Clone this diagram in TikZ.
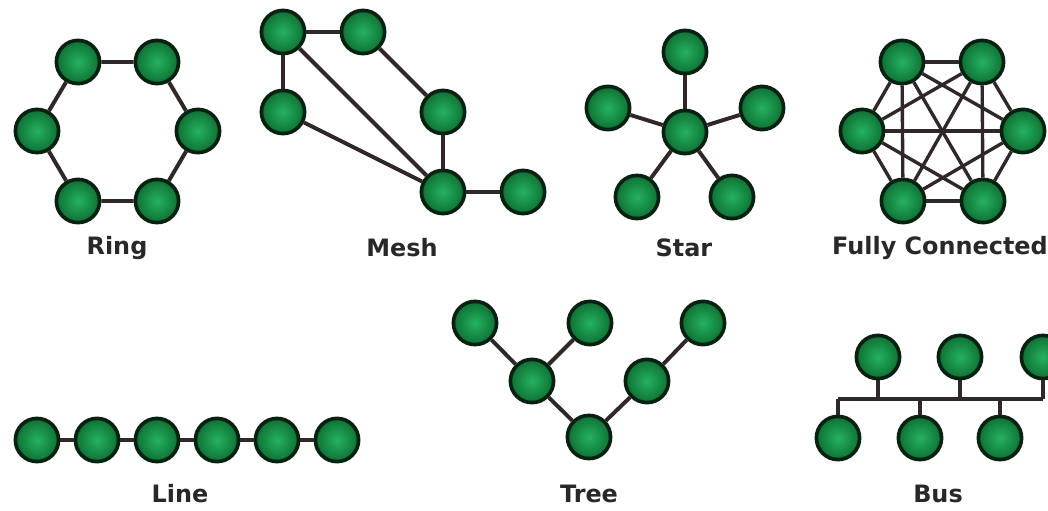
\documentclass[tikz,border=0pt]{standalone}
\usepackage{fontspec}
\setsansfont{DejaVu Sans}
\usetikzlibrary{positioning, calc}
\definecolor{ballgreen}{RGB}{36,178,96}
\definecolor{balldark}{RGB}{14,112,52}
\definecolor{ballrim}{RGB}{8,34,18}
\definecolor{linkgray}{RGB}{48,40,40}
\definecolor{labelgray}{RGB}{40,40,40}
\tikzstyle{ball} = [circle, minimum size=1.08cm, inner sep=0pt, draw=ballrim, line width=2.6pt, inner color=ballgreen, outer color=balldark]
\tikzstyle{link} = [line width=2.8pt, draw=linkgray]
\tikzstyle{caption} = [font=\sffamily\bfseries\fontsize{17}{17}\selectfont, text=labelgray]

\begin{document}
\begin{tikzpicture}[x=0.025cm, y=-0.025cm]
    % Canvas
    \fill[white] (0,0) rectangle (1048,511);
    \clip (0,0) rectangle (1048,511);

    % Ring
    \node[ball] (r1) at (78,62) {};
    \node[ball] (r2) at (157,62) {};
    \node[ball] (r3) at (198,131) {};
    \node[ball] (r4) at (157,201) {};
    \node[ball] (r5) at (78,201) {};
    \node[ball] (r6) at (37,131) {};
    \draw[link] (r1) -- (r2) -- (r3) -- (r4) -- (r5) -- (r6) -- (r1);
    \node[caption] (ringlbl) at (117,248) {Ring};

    % Mesh
    \node[ball] (m1) at (283,32) {};
    \node[ball] (m2) at (363,32) {};
    \node[ball] (m3) at (283,112) {};
    \node[ball] (m4) at (443,112) {};
    \node[ball] (m5) at (443,192) {};
    \node[ball] (m6) at (523,192) {};
    \draw[link] (m1) -- (m2);
    \draw[link] (m1) -- (m3);
    \draw[link] (m1) -- (m5);
    \draw[link] (m3) -- (m5);
    \draw[link] (m2) -- (m4);
    \draw[link] (m4) -- (m5);
    \draw[link] (m5) -- (m6);
    \node[caption] (meshlbl) at (402,248) {Mesh};

    % Star
    \node[ball] (hub) at (685,132) {};
    \node[ball] (s1) at (685,52) {};
    \node[ball] (s2) at (762,108) {};
    \node[ball] (s3) at (732,197) {};
    \node[ball] (s4) at (637,197) {};
    \node[ball] (s5) at (608,108) {};
    \foreach \s in {s1,s2,s3,s4,s5}
        \draw[link] (hub) -- (\s);
    \node[caption] (starlbl) at (684,248) {Star};

    % Fully connected
    \node[ball] (f1) at (902,62) {};
    \node[ball] (f2) at (982,62) {};
    \node[ball] (f3) at (1023,131) {};
    \node[ball] (f4) at (983,201) {};
    \node[ball] (f5) at (903,201) {};
    \node[ball] (f6) at (862,131) {};
    \foreach \i/\j in {1/2,1/3,1/4,1/5,1/6,2/3,2/4,2/5,2/6,3/4,3/5,3/6,4/5,4/6,5/6}
        \draw[link, line width=2.4pt] (f\i) -- (f\j);
    \node[caption] (fulllbl) at (940,248) {Fully Connected};

    % Line
    \foreach \k in {1,...,6}
        \node[ball] (l\k) at ({37+60*(\k-1)},440) {};
    \foreach \k [evaluate=\k as \n using int(\k+1)] in {1,...,5}
        \draw[link] (l\k) -- (l\n);
    \node[caption] (linelbl) at (180,494) {Line};

    % Tree
    \node[ball] (t1) at (475,323) {};
    \node[ball] (t2) at (590,323) {};
    \node[ball] (t3) at (703,323) {};
    \node[ball] (t4) at (532,381) {};
    \node[ball] (t5) at (647,381) {};
    \node[ball] (t6) at (589,437) {};
    \draw[link] (t1) -- (t4) -- (t2);
    \draw[link] (t4) -- (t6) -- (t5) -- (t3);
    \node[caption] (treelbl) at (589,494) {Tree};

    % Bus
    \coordinate (busline) at (0,399);
    \node[ball] (bt1) at (878,357) {};
    \node[ball] (bt2) at (960,357) {};
    \node[ball] (bt3) at (1043,357) {};
    \node[ball] (bb1) at (838,438) {};
    \node[ball] (bb2) at (920,438) {};
    \node[ball] (bb3) at (1000,438) {};
    \draw[link] (bb1 |- busline) -- (bt3 |- busline);
    \foreach \b in {bt1,bt2,bt3,bb1,bb2,bb3}
        \draw[link] (\b) -- (\b |- busline);
    \node[caption] (buslbl) at (938,494) {Bus};
\end{tikzpicture}
\end{document}
